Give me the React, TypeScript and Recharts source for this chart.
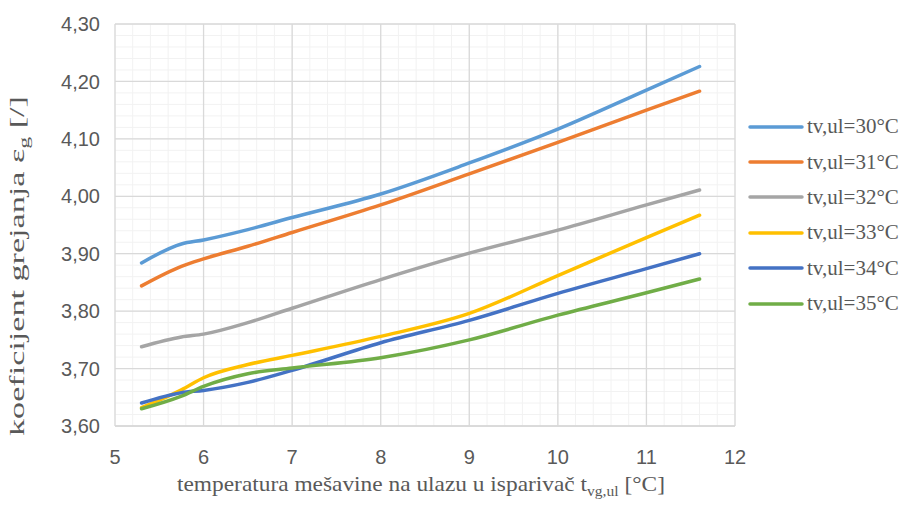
import React from "react";
import { LineChart, Line, XAxis, YAxis, CartesianGrid, Legend, Label } from "recharts";

const xValues = [5.3, 5.75, 6, 6.5, 7, 8, 9, 10, 11, 11.6];
const s30 = [3.884, 3.917, 3.924, 3.942, 3.963, 4.004, 4.058, 4.117, 4.185, 4.226];
const s31 = [3.844, 3.878, 3.891, 3.913, 3.937, 3.985, 4.039, 4.094, 4.15, 4.183];
const s32 = [3.738, 3.755, 3.76, 3.78, 3.805, 3.855, 3.901, 3.941, 3.985, 4.011];
const s33 = [3.632, 3.663, 3.684, 3.707, 3.723, 3.756, 3.796, 3.862, 3.928, 3.967];
const s34 = [3.64, 3.658, 3.662, 3.676, 3.697, 3.745, 3.784, 3.831, 3.874, 3.9];
const s35 = [3.63, 3.652, 3.669, 3.691, 3.701, 3.719, 3.75, 3.793, 3.832, 3.856];

const seriesNames = ["tv,ul=30°C", "tv,ul=31°C", "tv,ul=32°C", "tv,ul=33°C", "tv,ul=34°C", "tv,ul=35°C"];
const seriesKeys = ["s30", "s31", "s32", "s33", "s34", "s35"];
const seriesColors = ["#5B9BD5", "#ED7D31", "#A5A5A5", "#FFC000", "#4472C4", "#70AD47"];
const seriesValues = [s30, s31, s32, s33, s34, s35];

const xTicks = [5, 6, 7, 8, 9, 10, 11, 12];
const yTicks = [3.6, 3.7, 3.8, 3.9, 4.0, 4.1, 4.2, 4.3];

const data = xValues.map((x, i) => {
  const row: Record<string, number> = { x };
  seriesKeys.forEach((k, j) => {
    row[k] = seriesValues[j][i];
  });
  return row;
});

const minorX: number[] = [];
for (let i = 0; i <= 35; i++) minorX.push(5 + i * 0.2);
const minorY: number[] = [];
for (let i = 0; i <= 35; i++) minorY.push(3.6 + i * 0.02);

const serif = "Liberation Serif, Times New Roman, serif";
const sans = "Liberation Sans, Arial, sans-serif";

const LegendBox = () => (
  <div style={{ fontFamily: serif, fontSize: 21, color: "#595959" }}>
    {seriesNames.map((n, i) => (
      <div key={n} style={{ height: 35.4, display: "flex", alignItems: "center" }}>
        <svg width={60} height={10} style={{ display: "block" }}>
          <line x1={3} y1={5} x2={55} y2={5} stroke={seriesColors[i]} strokeWidth={3.5} strokeLinecap="round" />
        </svg>
        <span style={{ whiteSpace: "nowrap", fontFamily: serif }}>{n}</span>
      </div>
    ))}
  </div>
);

export default function App() {
  return (
    <div style={{ position: "absolute", left: 0, top: 0, width: 903, height: 514, background: "#fff" }}>
      <LineChart width={903} height={514} data={data} margin={{ top: 24, right: 168, bottom: 58, left: 55 }}>
        <CartesianGrid stroke="#f2f2f2" strokeWidth={1} verticalValues={minorX} horizontalValues={minorY} />
        <CartesianGrid stroke="#d9d9d9" strokeWidth={1.3} verticalValues={xTicks} horizontalValues={yTicks} />
        <XAxis
          dataKey="x"
          type="number"
          domain={[5, 12]}
          ticks={xTicks}
          height={30}
          tickLine={false}
          tickSize={0}
          tickMargin={24}
          axisLine={{ stroke: "#d9d9d9", strokeWidth: 1.3 }}
          tick={{ fill: "#595959", fontSize: 20, fontFamily: sans }}
          interval={0}
        >
          <Label
            content={() => (
              <text x={421} y={491} textAnchor="middle" fontFamily={serif} fontSize={21} fill="#595959" textLength={488} lengthAdjust="spacingAndGlyphs">
                temperatura mešavine na ulazu u isparivač t
                <tspan fontSize={14} dy={5}>vg,ul</tspan>
                <tspan dy={-5}> [°C]</tspan>
              </text>
            )}
          />
        </XAxis>
        <YAxis
          type="number"
          domain={[3.6, 4.3]}
          ticks={yTicks}
          width={60}
          tickLine={false}
          tickSize={0}
          tickMargin={15}
          axisLine={false}
          tick={{ fill: "#595959", fontSize: 20, fontFamily: sans }}
          tickFormatter={(v: number) => v.toFixed(2).replace(".", ",")}
          interval={0}
        >
          <Label
            content={() => (
              <text
                x={0}
                y={0}
                transform="translate(24, 266) rotate(-90)"
                textAnchor="middle"
                fontFamily={serif}
                fontSize={20}
                fill="#595959"
                textLength={340}
                lengthAdjust="spacingAndGlyphs"
              >
                koeficijent grejanja ε
                <tspan fontSize={14} dy={5}>g</tspan>
                <tspan dy={-5}> [/]</tspan>
              </text>
            )}
          />
        </YAxis>
        <Legend
          layout="vertical"
          align="center"
          verticalAlign="middle"
          wrapperStyle={{ left: 747, top: 109, width: 156 }}
          content={() => <LegendBox />}
        />
        {seriesKeys.map((k, i) => (
          <Line
            key={k}
            dataKey={k}
            name={seriesNames[i]}
            type="monotone"
            stroke={seriesColors[i]}
            strokeWidth={3.5}
            strokeLinecap="round"
            dot={false}
            activeDot={false}
            isAnimationActive={false}
          />
        ))}
      </LineChart>
    </div>
  );
}
